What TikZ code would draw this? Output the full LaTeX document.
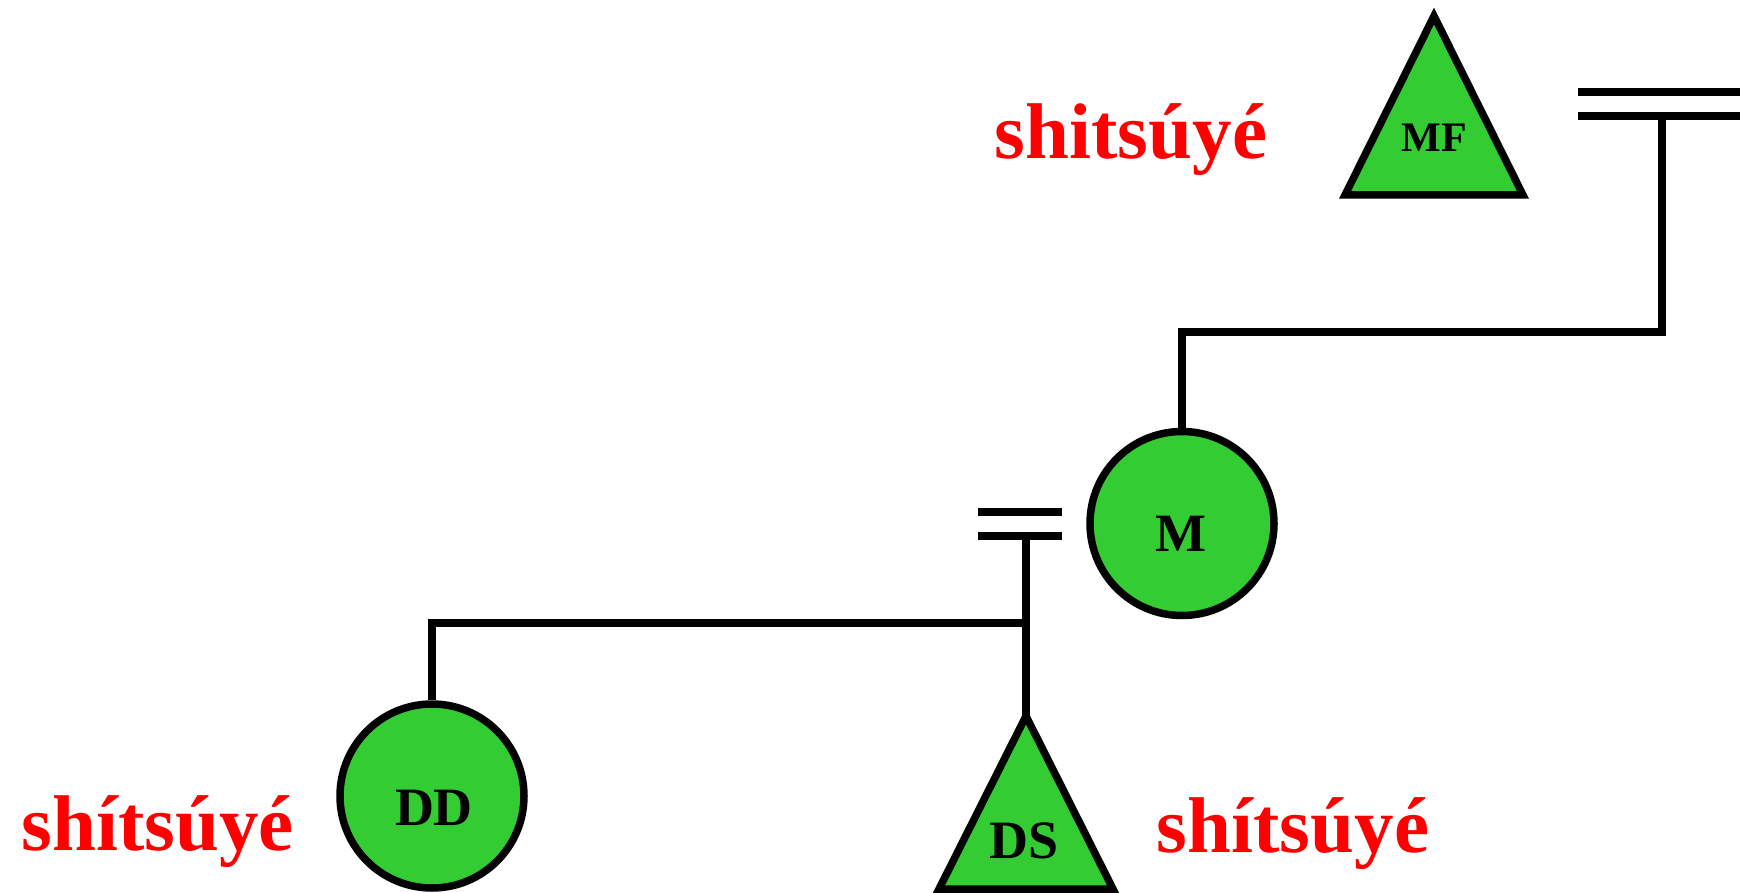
\documentclass[tikz,border=0pt]{standalone}
\usepackage{fontspec}
\setmainfont{Liberation Serif}
\definecolor{nodegreen}{RGB}{51,204,51}
\definecolor{kinred}{RGB}{255,0,0}
\begin{document}
\begin{tikzpicture}[x=1pt,y=-1pt,
  shapestyle/.style={draw=black,fill=nodegreen,line width=7.5pt,line join=miter},
  circ/.style={shapestyle,circle,inner sep=0pt,minimum size=184pt},
  conn/.style={draw=black,line width=7.5pt},
  lbl/.style={anchor=base,inner sep=0pt,font=\bfseries\fontsize{54}{60}\selectfont},
  lblsmall/.style={anchor=base,inner sep=0pt,font=\bfseries\fontsize{42}{50}\selectfont},
  kin/.style={anchor=base,inner sep=0pt,text=kinred,font=\bfseries\fontsize{79}{90}\selectfont}]
\useasboundingbox (0,0) rectangle (1740,893);
% shapes
\coordinate (mfapex) at (1434,16);
\filldraw[shapestyle] (mfapex) -- (1345,195) -- (1523,195) -- cycle;
\node[lblsmall] (mflbl) at (1434.5,152) {MF};
\node[circ] (m) at (1182,523.5) {};
\node[lbl] (mlbl) at (1181,551) {M};
\node[circ] (dd) at (432,796) {};
\node[lbl] (ddlbl) at (434,825) {DD};
\coordinate (dsapex) at (1026,716);
\filldraw[shapestyle] (dsapex) -- (939,889) -- (1113,889) -- cycle;
\node[lbl] (dslbl) at (1024,858) {DS};
% kin terms
\node[kin] (kin1) at (1131,159) {shitsúyé};
\node[kin] (kin2) at (158,850) {shítsúyé};
\node[kin] (kin3) at (1293,852) {shítsúyé};
% top marriage double line
\coordinate (ta1) at (1578,92);
\coordinate (ta2) at (1745,92);
\coordinate (tb1) at (1578,116);
\coordinate (tb2) at (1745,116);
\draw[conn] (ta1) -- (ta2);
\draw[conn] (tb1) -- (tb2);
\coordinate (mfjoin) at (1662,116);
\coordinate (mbar) at (1182,332);
\draw[conn] (mfjoin) |- (mbar) -- (m.north);
% lower marriage double line
\coordinate (la1) at (978,512);
\coordinate (la2) at (1062,512);
\coordinate (lb1) at (978,536);
\coordinate (lb2) at (1062,536);
\draw[conn] (la1) -- (la2);
\draw[conn] (lb1) -- (lb2);
\coordinate (sibjoin) at (1026,536);
\coordinate (sibbar) at (1026,623);
\draw[conn] (sibjoin) -- (dsapex);
\draw[conn] (sibbar) -| (dd.north);
\end{tikzpicture}
\end{document}
